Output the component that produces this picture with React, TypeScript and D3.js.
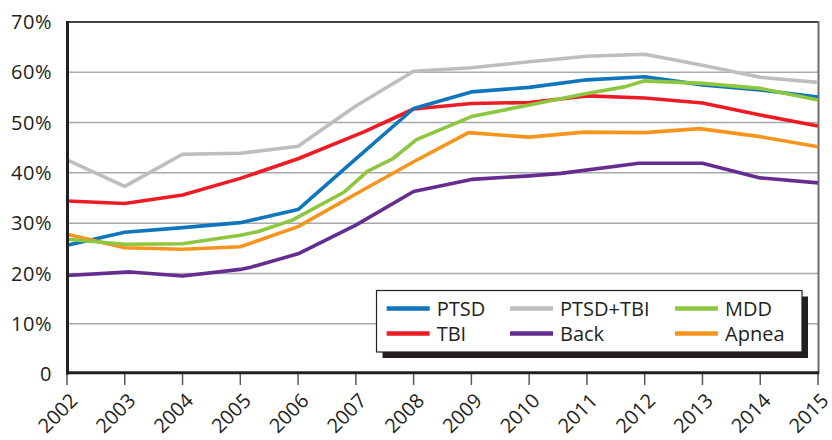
import React from "react";
import * as d3 from "d3";

const years = [2002, 2003, 2004, 2005, 2006, 2007, 2008, 2009, 2010, 2011, 2012, 2013, 2014, 2015];
const yTicks = [0, 10, 20, 30, 40, 50, 60, 70];
const yTickLabels = ["0", "10%", "20%", "30%", "40%", "50%", "60%", "70%"];

const ptsd: [number, number][] = [
  [2002, 25.6], [2003, 28.2], [2004, 29.1], [2005, 30.1], [2006, 32.7], [2007, 42.8], [2008, 52.8],
  [2009, 56.1], [2010, 57.0], [2011, 58.5], [2012, 59.1], [2013, 57.5], [2014, 56.5], [2015, 55.1],
];
const tbi: [number, number][] = [
  [2002, 34.4], [2003, 33.9], [2004, 35.6], [2005, 38.9], [2006, 42.8], [2007.15, 48.2], [2008, 52.7],
  [2009, 53.8], [2010, 54.0], [2011, 55.3], [2012, 54.9], [2013, 53.9], [2014, 51.5], [2015, 49.3],
];
const ptsdTbi: [number, number][] = [
  [2002, 42.6], [2003, 37.3], [2004, 43.7], [2005, 43.9], [2006, 45.3], [2007, 53.3], [2008, 60.2],
  [2009, 60.9], [2010, 62.1], [2011, 63.2], [2012, 63.6], [2013, 61.4], [2014, 59.0], [2015, 58.0],
];
const mdd: [number, number][] = [
  [2002, 26.8], [2003, 25.8], [2004, 25.9], [2005, 27.6], [2005.3, 28.3], [2005.9, 30.6], [2006.8, 36.2],
  [2007.2, 40.3], [2007.65, 42.9], [2008.05, 46.6], [2009, 51.2], [2010, 53.5], [2011, 55.8],
  [2011.65, 57.1], [2012, 58.3], [2013, 57.8], [2014, 56.8], [2015, 54.5],
];
const back: [number, number][] = [
  [2002, 19.6], [2003.1, 20.3], [2004, 19.5], [2005, 20.8], [2005.2, 21.3], [2006, 23.9], [2007, 29.6],
  [2008, 36.3], [2009, 38.7], [2010, 39.4], [2010.55, 39.9], [2011.9, 41.9], [2013, 41.9], [2014, 39.0],
  [2015, 38.0],
];
const apnea: [number, number][] = [
  [2002, 27.8], [2003, 25.1], [2004, 24.8], [2005, 25.3], [2006, 29.3], [2007, 35.8], [2008, 42.2],
  [2008.95, 48.0], [2010, 47.1], [2010.95, 48.1], [2012, 48.0], [2012.95, 48.8], [2014, 47.2], [2015, 45.2],
];

const seriesNames = ["PTSD", "PTSD+TBI", "MDD", "TBI", "Back", "Apnea"];
const seriesData = [ptsd, ptsdTbi, mdd, tbi, back, apnea];
const seriesColors = ["#0f75bc", "#bcbec0", "#8dc63f", "#ed1c24", "#662d91", "#f7941d"];
const drawOrder = [3, 0, 1, 4, 5, 2];

export default function App() {
  const W = 832, H = 440;
  const x = d3.scaleLinear().domain([2002, 2015]).range([67, 818]);
  const y = d3.scaleLinear().domain([0, 70]).range([374, 22]);
  const line = d3.line<[number, number]>().x((d) => x(d[0])).y((d) => y(d[1]));
  const font = "'Open Sans', sans-serif";
  const ink = "#231f20";

  const legendCols = [386.7, 510, 675];
  const legendRows = [308.5, 333.5];
  const box = { x: 376.5, y: 290.5, w: 425.5, h: 61.5 };

  return (
    <svg width={W} height={H} style={{ position: "absolute", left: 0, top: 0 }} fontFamily={font}>
      <rect width={W} height={H} fill="#fff" />
      {yTicks.slice(1).map((t) => (
        <line key={t} x1={67} x2={818} y1={y(t)} y2={y(t)} stroke="#a7a9ac" strokeWidth={1.5} />
      ))}
      <line x1={67} x2={819} y1={22} y2={22} stroke="#414042" strokeWidth={2} />
      <line x1={818.5} x2={818.5} y1={21} y2={374} stroke="#6d6e71" strokeWidth={2} />
      {years.map((yr) => (
        <line key={yr} x1={x(yr)} x2={x(yr)} y1={373} y2={385} stroke="#58595b" strokeWidth={1.5} />
      ))}
      {yTicks.map((t, i) => (
        <text key={t} x={52} y={y(t)} dy="0.357em" textAnchor="end" fontSize={20} fill={ink} letterSpacing={0.5}>
          {yTickLabels[i]}
        </text>
      ))}
      {years.map((yr) => (
        <text
          key={yr}
          transform={`translate(${x(yr) + 7},${397}) rotate(-45)`}
          dy="0.35em"
          textAnchor="end"
          fontSize={20}
          fill={ink}
        >
          {yr}
        </text>
      ))}
      {drawOrder.map((i) => (
        <path
          key={seriesNames[i]}
          d={line(seriesData[i]) || ""}
          fill="none"
          stroke={seriesColors[i]}
          strokeWidth={3.6}
          strokeLinejoin="round"
        />
      ))}
      <line x1={67.5} x2={67.5} y1={21} y2={374.5} stroke={ink} strokeWidth={3} />
      <line x1={66} x2={819} y1={372.8} y2={372.8} stroke={ink} strokeWidth={3} />
      <rect x={box.x + 6} y={box.y + 6} width={box.w} height={box.h} fill={ink} />
      <rect x={box.x} y={box.y} width={box.w} height={box.h} fill="#fff" stroke={ink} strokeWidth={1.2} />
      {seriesNames.map((name, i) => {
        const col = i % 3;
        const row = Math.floor(i / 3);
        const lx = legendCols[col];
        const ly = legendRows[row];
        return (
          <g key={name}>
            <line x1={lx} x2={lx + 43} y1={ly} y2={ly} stroke={seriesColors[i]} strokeWidth={4.5} />
            <text x={lx + 50} y={ly} dy="0.357em" fontSize={20} fill={ink}>
              {name}
            </text>
          </g>
        );
      })}
    </svg>
  );
}
